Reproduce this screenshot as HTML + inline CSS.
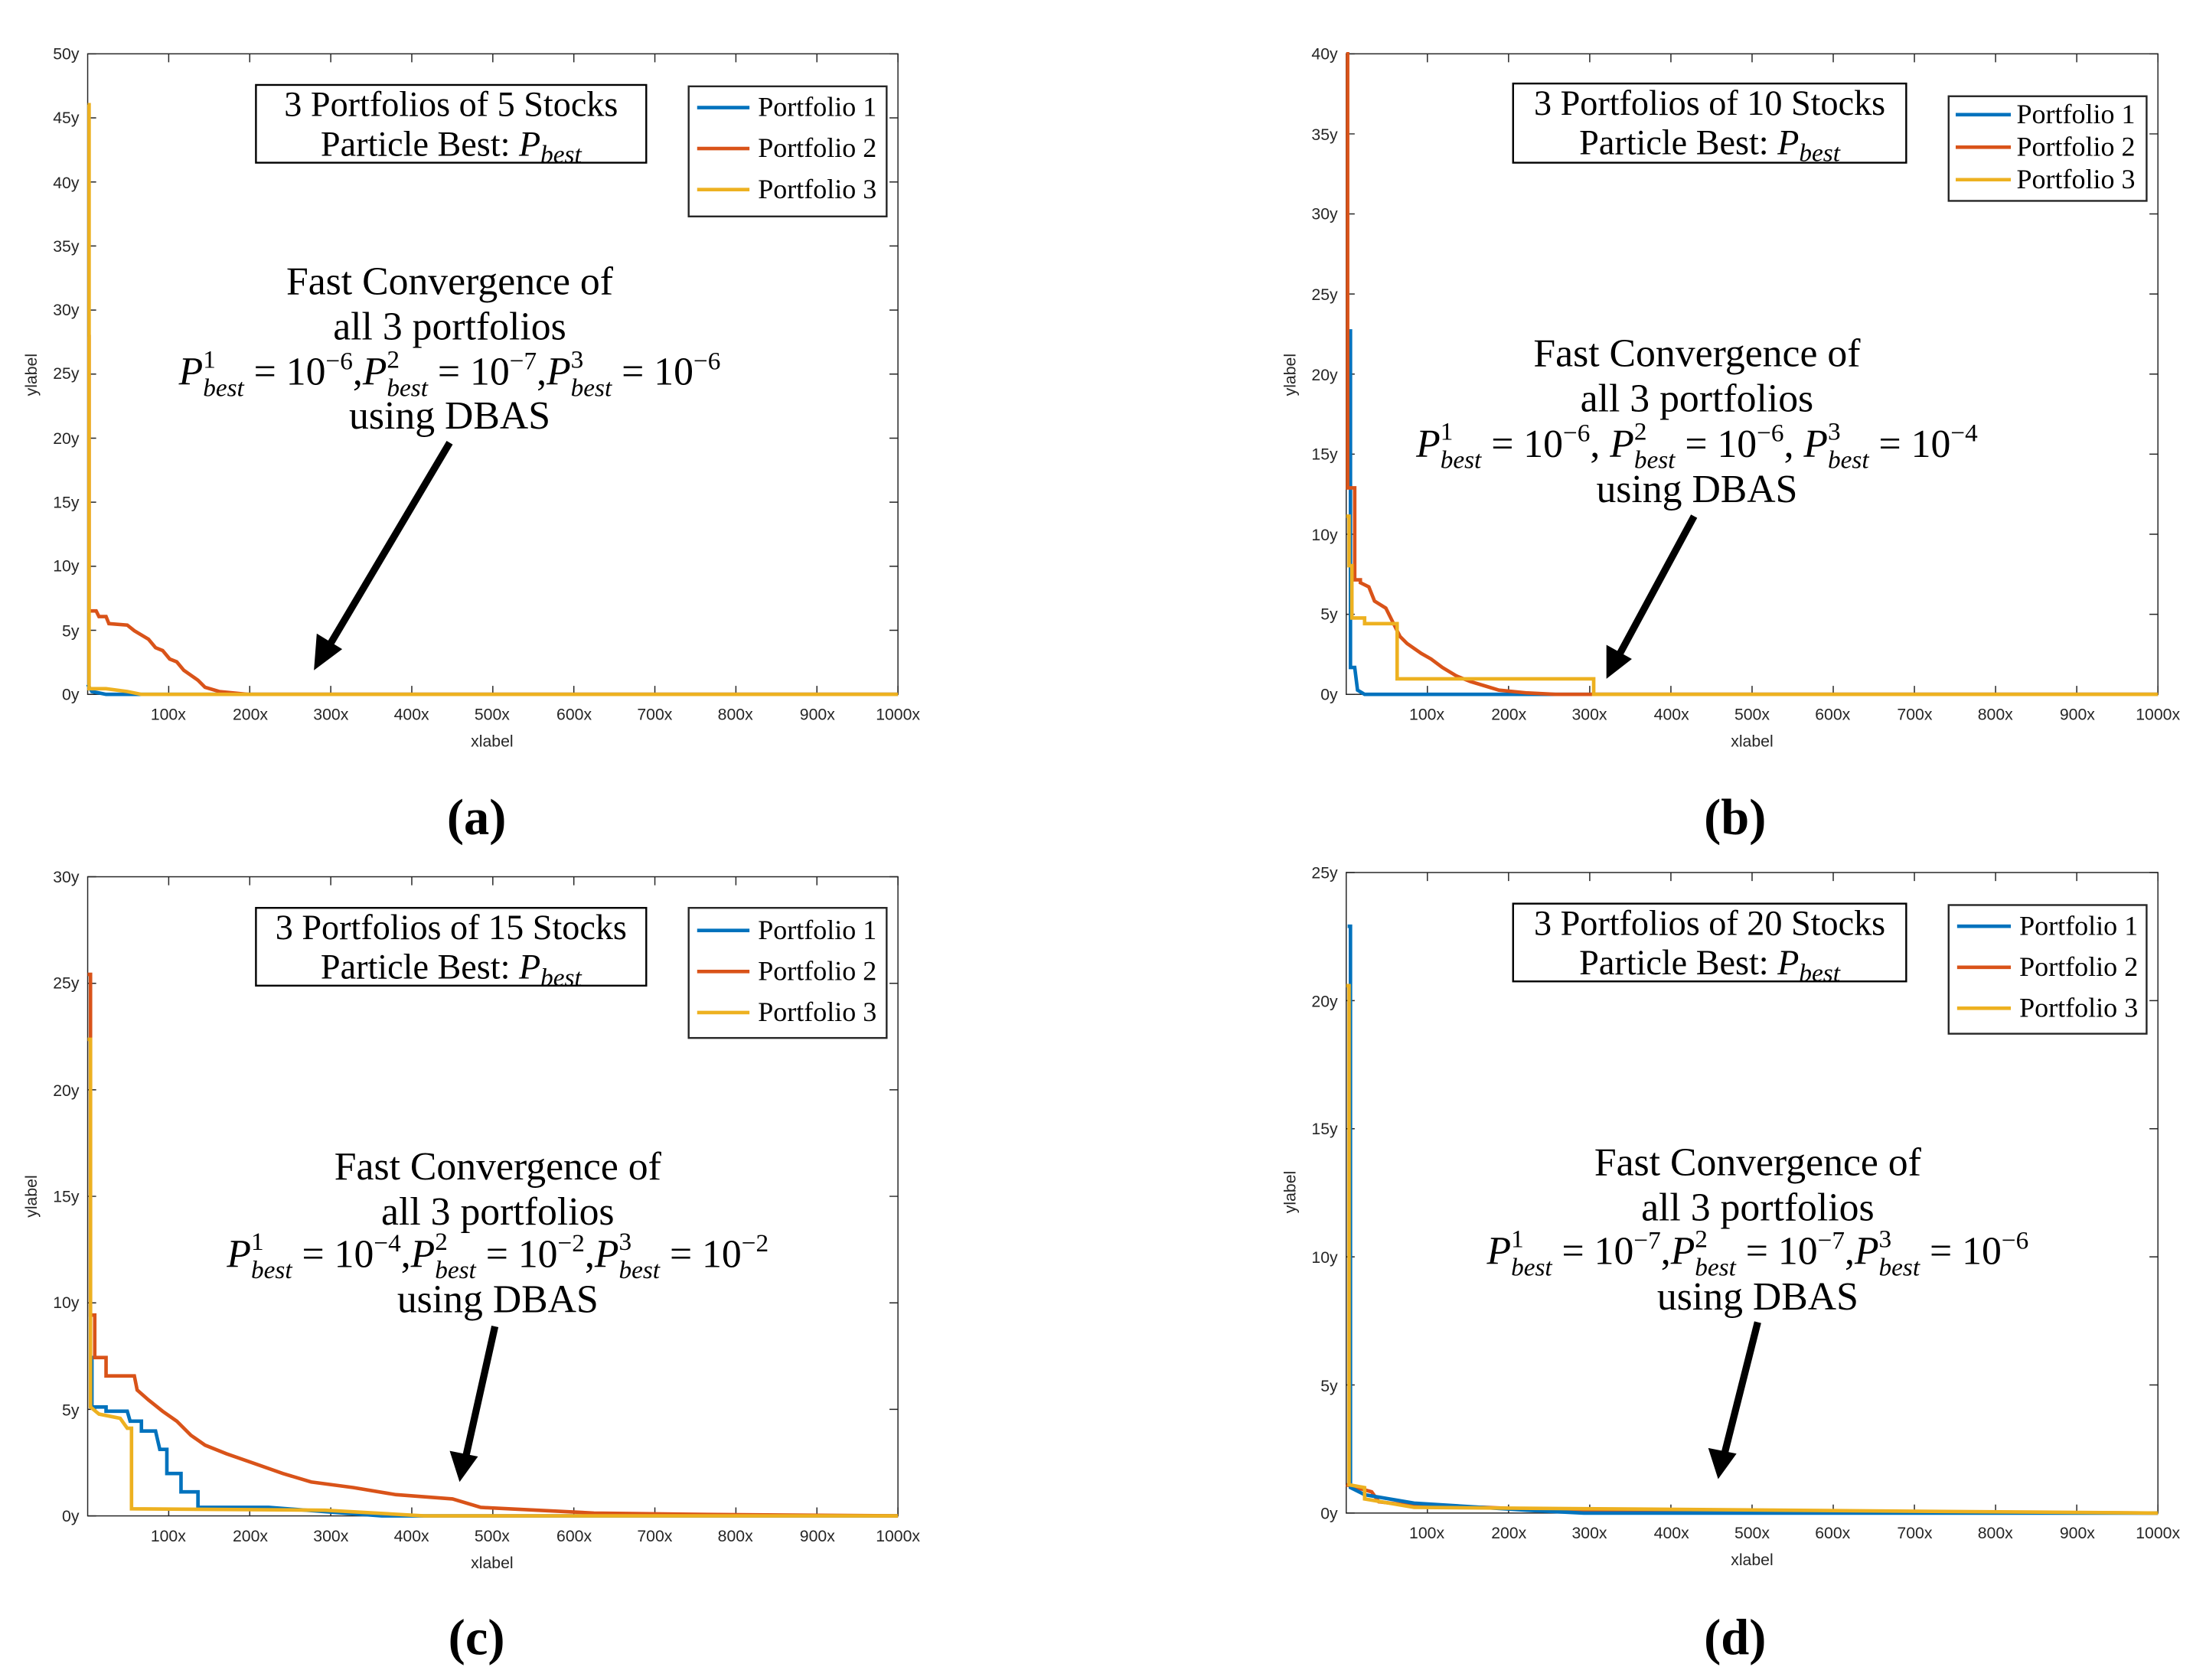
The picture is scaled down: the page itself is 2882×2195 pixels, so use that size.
<!DOCTYPE html>
<html><head><meta charset="utf-8"><style>
html,body{margin:0;padding:0;background:#fff}
svg{display:block}
.tk{font-family:"Liberation Sans",sans-serif;font-size:11.5px;fill:#262626}
.lg{font-family:"Liberation Serif",serif;font-size:19.5px;fill:#000}
.tt{font-family:"Liberation Serif",serif;font-size:25px;fill:#000}
.an{font-family:"Liberation Serif",serif;font-size:28px;fill:#000}
.it{font-style:italic}
.lab{font-family:"Liberation Serif",serif;font-size:36px;fill:#000;font-weight:bold}
.c1{fill:none;stroke:#0072BD;stroke-width:2.5}
.c2{fill:none;stroke:#D95319;stroke-width:2.5}
.c3{fill:none;stroke:#EDB120;stroke-width:2.5}
.ax{fill:none;stroke:#262626;stroke-width:0.8}
</style></head><body>
<svg id="s" width="2882" height="2195" viewBox="0 0 1560 1188" xmlns="http://www.w3.org/2000/svg">
<rect width="1560" height="1188" fill="#fff"/>
<g id="ticks"></g>
<!-- Panel a -->
<rect class="ax" x="62" y="38" width="573" height="453"/>
<path class="c1" d="M62,484 L65,489 L75,491 L635,491"/>
<path class="c2" d="M62,238 L63,238 L63,432 L68,432 L70,436 L75,436 L77,441 L90,442 L95,446 L105,452 L110,458 L115,460 L120,466 L125,468 L130,474 L140,481 L145,486 L155,489 L175,491 L635,491"/>
<path class="c3" d="M62,74 L63,74 L63,487 L75,487 L90,489 L100,491 L635,491"/>
<g class="tk" text-anchor="end"><text x="56" y="495">0y</text><text x="56" y="450">5y</text><text x="56" y="404">10y</text><text x="56" y="359">15y</text><text x="56" y="314">20y</text><text x="56" y="268">25y</text><text x="56" y="223">30y</text><text x="56" y="178">35y</text><text x="56" y="133">40y</text><text x="56" y="87">45y</text><text x="56" y="42">50y</text></g>
<g class="tk" text-anchor="middle"><text x="119" y="509">100x</text><text x="177" y="509">200x</text><text x="234" y="509">300x</text><text x="291" y="509">400x</text><text x="348" y="509">500x</text><text x="406" y="509">600x</text><text x="463" y="509">700x</text><text x="520" y="509">800x</text><text x="578" y="509">900x</text><text x="635" y="509">1000x</text><text x="348" y="528">xlabel</text></g>
<text class="tk" transform="translate(26,265) rotate(-90)" text-anchor="middle">ylabel</text>
<rect x="181" y="60" width="276" height="55" fill="#fff" stroke="#000" stroke-width="1.3"/>
<text class="tt" x="319" y="82" text-anchor="middle">3 Portfolios of 5 Stocks</text>
<text class="tt" x="319" y="110" text-anchor="middle">Particle Best: <tspan class="it">P</tspan><tspan class="it" font-size="18" dy="5">best</tspan></text>
<rect x="487" y="61" width="140" height="92" fill="#fff" stroke="#262626" stroke-width="1.3"/>
<path class="c1" d="M493,76 L530,76"/><path class="c2" d="M493,105 L530,105"/><path class="c3" d="M493,134 L530,134"/>
<text class="lg" x="536" y="82">Portfolio 1</text><text class="lg" x="536" y="111">Portfolio 2</text><text class="lg" x="536" y="140">Portfolio 3</text>
<text class="an" x="318" y="208" text-anchor="middle">Fast Convergence of</text>
<text class="an" x="318" y="240" text-anchor="middle">all 3 portfolios</text>
<text class="an" x="318" y="272" text-anchor="middle"><tspan class="it">P</tspan><tspan font-size="18" dy="-12">1</tspan><tspan class="it" font-size="18" dx="-9" dy="20">best</tspan><tspan dy="-8">  =  10</tspan><tspan font-size="18" dy="-11">−6</tspan><tspan dy="11">,</tspan><tspan class="it">P</tspan><tspan font-size="18" dy="-12">2</tspan><tspan class="it" font-size="18" dx="-9" dy="20">best</tspan><tspan dy="-8">  =  10</tspan><tspan font-size="18" dy="-11">−7</tspan><tspan dy="11">,</tspan><tspan class="it">P</tspan><tspan font-size="18" dy="-12">3</tspan><tspan class="it" font-size="18" dx="-9" dy="20">best</tspan><tspan dy="-8">  =  10</tspan><tspan font-size="18" dy="-11">−6</tspan></text>
<text class="an" x="318" y="303" text-anchor="middle">using DBAS</text>
<line x1="318" y1="313" x2="232" y2="458" stroke="#000" stroke-width="5"/>
<polygon points="222,474 224,448 242,459" fill="#000"/>
<text class="lab" x="337" y="590" text-anchor="middle">(a)</text>

<!-- Panel b -->
<rect class="ax" x="952" y="38" width="574" height="453"/>
<path class="c1" d="M953,234 L955,234 L955,472 L958,472 L960,488 L965,491 L1526,491"/>
<path class="c2" d="M952,38 L953,38 L953,345 L958,345 L958,410 L962,410 L962,412 L968,415 L972,425 L980,430 L985,440 L990,450 L995,455 L1005,462 L1012,466 L1020,472 L1030,478 L1040,482 L1050,485 L1060,488 L1080,490 L1100,491 L1526,491"/>
<path class="c3" d="M952,365 L954,365 L954,400 L956,400 L956,437 L965,437 L965,441 L988,441 L988,480 L1127,480 L1127,491 L1526,491"/>
<g class="tk" text-anchor="end"><text x="946" y="495">0y</text><text x="946" y="438">5y</text><text x="946" y="382">10y</text><text x="946" y="325">15y</text><text x="946" y="269">20y</text><text x="946" y="212">25y</text><text x="946" y="155">30y</text><text x="946" y="99">35y</text><text x="946" y="42">40y</text></g>
<g class="tk" text-anchor="middle"><text x="1009" y="509">100x</text><text x="1067" y="509">200x</text><text x="1124" y="509">300x</text><text x="1182" y="509">400x</text><text x="1239" y="509">500x</text><text x="1296" y="509">600x</text><text x="1354" y="509">700x</text><text x="1411" y="509">800x</text><text x="1469" y="509">900x</text><text x="1526" y="509">1000x</text><text x="1239" y="528">xlabel</text></g>
<text class="tk" transform="translate(916,265) rotate(-90)" text-anchor="middle">ylabel</text>
<rect x="1070" y="59" width="278" height="56" fill="#fff" stroke="#000" stroke-width="1.3"/>
<text class="tt" x="1209" y="81" text-anchor="middle">3 Portfolios of 10 Stocks</text>
<text class="tt" x="1209" y="109" text-anchor="middle">Particle Best: <tspan class="it">P</tspan><tspan class="it" font-size="18" dy="5">best</tspan></text>
<rect x="1378" y="68" width="140" height="74" fill="#fff" stroke="#262626" stroke-width="1.3"/>
<path class="c1" d="M1383,81 L1422,81"/><path class="c2" d="M1383,104 L1422,104"/><path class="c3" d="M1383,127 L1422,127"/>
<text class="lg" x="1426" y="87">Portfolio 1</text><text class="lg" x="1426" y="110">Portfolio 2</text><text class="lg" x="1426" y="133">Portfolio 3</text>
<text class="an" x="1200" y="259" text-anchor="middle">Fast Convergence of</text>
<text class="an" x="1200" y="291" text-anchor="middle">all 3 portfolios</text>
<text class="an" x="1200" y="323" text-anchor="middle"><tspan class="it">P</tspan><tspan font-size="18" dy="-12">1</tspan><tspan class="it" font-size="18" dx="-9" dy="20">best</tspan><tspan dy="-8">  =  10</tspan><tspan font-size="18" dy="-11">−6</tspan><tspan dy="11">, </tspan><tspan class="it">P</tspan><tspan font-size="18" dy="-12">2</tspan><tspan class="it" font-size="18" dx="-9" dy="20">best</tspan><tspan dy="-8">  =  10</tspan><tspan font-size="18" dy="-11">−6</tspan><tspan dy="11">, </tspan><tspan class="it">P</tspan><tspan font-size="18" dy="-12">3</tspan><tspan class="it" font-size="18" dx="-9" dy="20">best</tspan><tspan dy="-8">  =  10</tspan><tspan font-size="18" dy="-11">−4</tspan></text>
<text class="an" x="1200" y="355" text-anchor="middle">using DBAS</text>
<line x1="1198" y1="365" x2="1144" y2="465" stroke="#000" stroke-width="5"/>
<polygon points="1136,480 1136,456 1154,466" fill="#000"/>
<text class="lab" x="1227" y="590" text-anchor="middle">(b)</text>

<!-- Panel c -->
<rect class="ax" x="62" y="620" width="573" height="452"/>
<path class="c1" d="M63,960 L65,960 L65,995 L75,995 L75,998 L90,998 L92,1005 L100,1005 L100,1012 L110,1012 L113,1025 L118,1025 L118,1042 L128,1042 L128,1055 L140,1055 L140,1066 L190,1066 L230,1069 L270,1072 L635,1072"/>
<path class="c2" d="M62,689 L64,689 L64,930 L67,930 L67,960 L75,960 L75,973 L95,973 L97,983 L105,990 L115,998 L125,1005 L135,1015 L145,1022 L160,1028 L180,1035 L200,1042 L220,1048 L250,1052 L280,1057 L320,1060 L340,1066 L380,1068 L420,1070 L500,1071 L635,1072"/>
<path class="c3" d="M62,735 L64,735 L64,995 L70,1000 L85,1003 L90,1010 L93,1010 L93,1067 L230,1068 L300,1072 L635,1072"/>
<g class="tk" text-anchor="end"><text x="56" y="1076">0y</text><text x="56" y="1001">5y</text><text x="56" y="925">10y</text><text x="56" y="850">15y</text><text x="56" y="775">20y</text><text x="56" y="699">25y</text><text x="56" y="624">30y</text></g>
<g class="tk" text-anchor="middle"><text x="119" y="1090">100x</text><text x="177" y="1090">200x</text><text x="234" y="1090">300x</text><text x="291" y="1090">400x</text><text x="348" y="1090">500x</text><text x="406" y="1090">600x</text><text x="463" y="1090">700x</text><text x="520" y="1090">800x</text><text x="578" y="1090">900x</text><text x="635" y="1090">1000x</text><text x="348" y="1109">xlabel</text></g>
<text class="tk" transform="translate(26,846) rotate(-90)" text-anchor="middle">ylabel</text>
<rect x="181" y="642" width="276" height="55" fill="#fff" stroke="#000" stroke-width="1.3"/>
<text class="tt" x="319" y="664" text-anchor="middle">3 Portfolios of 15 Stocks</text>
<text class="tt" x="319" y="692" text-anchor="middle">Particle Best: <tspan class="it">P</tspan><tspan class="it" font-size="18" dy="5">best</tspan></text>
<rect x="487" y="642" width="140" height="92" fill="#fff" stroke="#262626" stroke-width="1.3"/>
<path class="c1" d="M493,658 L530,658"/><path class="c2" d="M493,687 L530,687"/><path class="c3" d="M493,716 L530,716"/>
<text class="lg" x="536" y="664">Portfolio 1</text><text class="lg" x="536" y="693">Portfolio 2</text><text class="lg" x="536" y="722">Portfolio 3</text>
<text class="an" x="352" y="834" text-anchor="middle">Fast Convergence of</text>
<text class="an" x="352" y="866" text-anchor="middle">all 3 portfolios</text>
<text class="an" x="352" y="896" text-anchor="middle"><tspan class="it">P</tspan><tspan font-size="18" dy="-12">1</tspan><tspan class="it" font-size="18" dx="-9" dy="20">best</tspan><tspan dy="-8">  =  10</tspan><tspan font-size="18" dy="-11">−4</tspan><tspan dy="11">,</tspan><tspan class="it">P</tspan><tspan font-size="18" dy="-12">2</tspan><tspan class="it" font-size="18" dx="-9" dy="20">best</tspan><tspan dy="-8">  =  10</tspan><tspan font-size="18" dy="-11">−2</tspan><tspan dy="11">,</tspan><tspan class="it">P</tspan><tspan font-size="18" dy="-12">3</tspan><tspan class="it" font-size="18" dx="-9" dy="20">best</tspan><tspan dy="-8">  =  10</tspan><tspan font-size="18" dy="-11">−2</tspan></text>
<text class="an" x="352" y="928" text-anchor="middle">using DBAS</text>
<line x1="350" y1="938" x2="329" y2="1032" stroke="#000" stroke-width="5"/>
<polygon points="325,1048 318,1026 338,1030" fill="#000"/>
<text class="lab" x="337" y="1170" text-anchor="middle">(c)</text>

<!-- Panel d -->
<rect class="ax" x="952" y="617" width="574" height="453"/>
<path class="c2" d="M952,1050 L970,1055 L975,1062 L1000,1065 L1050,1066 L1100,1068 L1526,1070"/>
<path class="c1" d="M953,655 L955,655 L955,1052 L965,1057 L1000,1063 L1080,1068 L1120,1070 L1526,1070"/>
<path class="c3" d="M952,697 L954,697 L954,1050 L965,1052 L965,1060 L1000,1066 L1526,1070"/>
<g class="tk" text-anchor="end"><text x="946" y="1074">0y</text><text x="946" y="984">5y</text><text x="946" y="893">10y</text><text x="946" y="802">15y</text><text x="946" y="712">20y</text><text x="946" y="621">25y</text></g>
<g class="tk" text-anchor="middle"><text x="1009" y="1088">100x</text><text x="1067" y="1088">200x</text><text x="1124" y="1088">300x</text><text x="1182" y="1088">400x</text><text x="1239" y="1088">500x</text><text x="1296" y="1088">600x</text><text x="1354" y="1088">700x</text><text x="1411" y="1088">800x</text><text x="1469" y="1088">900x</text><text x="1526" y="1088">1000x</text><text x="1239" y="1107">xlabel</text></g>
<text class="tk" transform="translate(916,843) rotate(-90)" text-anchor="middle">ylabel</text>
<rect x="1070" y="639" width="278" height="55" fill="#fff" stroke="#000" stroke-width="1.3"/>
<text class="tt" x="1209" y="661" text-anchor="middle">3 Portfolios of 20 Stocks</text>
<text class="tt" x="1209" y="689" text-anchor="middle">Particle Best: <tspan class="it">P</tspan><tspan class="it" font-size="18" dy="5">best</tspan></text>
<rect x="1378" y="640" width="140" height="91" fill="#fff" stroke="#262626" stroke-width="1.3"/>
<path class="c1" d="M1384,655 L1422,655"/><path class="c2" d="M1384,684 L1422,684"/><path class="c3" d="M1384,713 L1422,713"/>
<text class="lg" x="1428" y="661">Portfolio 1</text><text class="lg" x="1428" y="690">Portfolio 2</text><text class="lg" x="1428" y="719">Portfolio 3</text>
<text class="an" x="1243" y="831" text-anchor="middle">Fast Convergence of</text>
<text class="an" x="1243" y="863" text-anchor="middle">all 3 portfolios</text>
<text class="an" x="1243" y="894" text-anchor="middle"><tspan class="it">P</tspan><tspan font-size="18" dy="-12">1</tspan><tspan class="it" font-size="18" dx="-9" dy="20">best</tspan><tspan dy="-8">  =  10</tspan><tspan font-size="18" dy="-11">−7</tspan><tspan dy="11">,</tspan><tspan class="it">P</tspan><tspan font-size="18" dy="-12">2</tspan><tspan class="it" font-size="18" dx="-9" dy="20">best</tspan><tspan dy="-8">  =  10</tspan><tspan font-size="18" dy="-11">−7</tspan><tspan dy="11">,</tspan><tspan class="it">P</tspan><tspan font-size="18" dy="-12">3</tspan><tspan class="it" font-size="18" dx="-9" dy="20">best</tspan><tspan dy="-8">  =  10</tspan><tspan font-size="18" dy="-11">−6</tspan></text>
<text class="an" x="1243" y="926" text-anchor="middle">using DBAS</text>
<line x1="1243" y1="935" x2="1219" y2="1030" stroke="#000" stroke-width="5"/>
<polygon points="1215,1046 1208,1024 1228,1028" fill="#000"/>
<text class="lab" x="1227" y="1170" text-anchor="middle">(d)</text>
</svg>
<script>
(function(){
var g=document.getElementById('ticks'),d='';
function P(x0,x1,y0,y1,ny){
 for(var k=0;k<=ny;k++){var y=y1-(y1-y0)*k/ny;d+='M'+x0+','+y+'h6M'+x1+','+y+'h-6';}
 for(var k=1;k<=10;k++){var x=x0+(x1-x0)*k/10;d+='M'+x+','+y1+'v-6M'+x+','+y0+'v6';}
}
P(62,635,38,491,10);P(952,1526,38,491,8);P(62,635,620,1072,6);P(952,1526,617,1070,5);
var p=document.createElementNS('http://www.w3.org/2000/svg','path');
p.setAttribute('d',d);p.setAttribute('class','ax');g.appendChild(p);
})();
</script>
</body></html>
